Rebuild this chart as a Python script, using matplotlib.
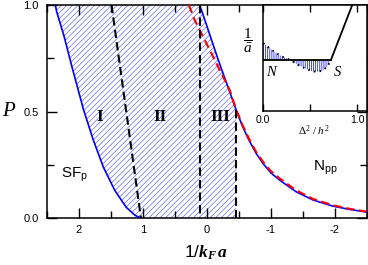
import numpy as np
import matplotlib
matplotlib.use('Agg')
import matplotlib.pyplot as plt

plt.rcParams['font.family'] = ['Liberation Sans', 'DejaVu Sans']
plt.rcParams['axes.unicode_minus'] = False
plt.rcParams['mathtext.fontset'] = 'custom'
plt.rcParams['mathtext.rm'] = 'Liberation Serif'
plt.rcParams['mathtext.it'] = 'Liberation Serif:italic'
plt.rcParams['mathtext.bf'] = 'Liberation Serif:italic:bold'
plt.rcParams['hatch.linewidth'] = 0.5

# --- main panel data (x = 1/kF a, P = polarization) ---
# left boundary of the superfluid region (blue solid)
left_x = [2.37, 2.35, 2.23, 2.11, 1.93, 1.78, 1.62, 1.44, 1.26, 1.12, 1.03]
left_P = [1.0, 0.97, 0.85, 0.71, 0.51, 0.37, 0.24, 0.13, 0.05, 0.012, 0.0]

# right boundary (blue solid)
right_x = [0.11, 0.03, -0.18, -0.33, -0.46, -0.56, -0.67, -0.77, -0.88, -1.0, -1.14,
           -1.40, -1.66, -1.97, -2.24, -2.5]
right_P = [1.0, 0.93, 0.742, 0.617, 0.507, 0.43, 0.36, 0.305, 0.256, 0.213, 0.178,
           0.123, 0.085, 0.056, 0.040, 0.028]

# red dashed curve
red_x = [0.28, 0.19, -0.125, -0.36, -0.46, -0.56, -0.67, -0.77, -0.88, -1.0, -1.14,
         -1.40, -1.66, -1.97, -2.24, -2.5]
red_P = [1.0, 0.93, 0.742, 0.60, 0.51, 0.436, 0.367, 0.312, 0.264, 0.221, 0.186,
         0.130, 0.090, 0.060, 0.043, 0.030]

# black dashed region dividers
div1_x = [1.49, 1.03]
div1_P = [1.0, 0.0]
div2_x = [0.11, 0.11]
div2_P = [1.0, 0.0]
div3_x = [-0.46, -0.46]
div3_P = [0.507, 0.0]

# --- inset data ---
flat_x = [0.0, 0.72]
flat_y = [0.48, 0.48]
rise_x = [0.72, 0.97]
rise_y = [0.48, 1.05]
dot_x = [0.0, 0.07, 0.14, 0.21, 0.29, 0.37, 0.45, 0.52, 0.57, 0.63, 0.685, 0.72]
dot_y = [0.64, 0.59, 0.545, 0.51, 0.48, 0.435, 0.40, 0.375, 0.37, 0.38, 0.42, 0.48]

blue = '#0000ff'
hatch_col = '#6c6cf0'

fig = plt.figure(figsize=(3.68, 2.65), dpi=100)
ax = fig.add_axes([47 / 368, 1 - 218 / 265, 319.5 / 368, 213 / 265])

# hatched superfluid region: up the left curve, then down the right one
n_top = right_x.index(div3_x[0]) + 1
poly_x = list(reversed(left_x)) + right_x[:n_top] + [div3_x[1]]
poly_P = list(reversed(left_P)) + right_P[:n_top] + [div3_P[1]]
ax.fill(poly_x, poly_P, facecolor='none', edgecolor=hatch_col, hatch='//////', linewidth=0, zorder=1)

ax.plot(left_x, left_P, color=blue, lw=1.2, zorder=3)
ax.plot(right_x, right_P, color=blue, lw=1.2, zorder=3)
ax.plot(red_x, red_P, color='#ff0000', lw=1.5, dashes=(4, 2.2), zorder=4)
for dx, dp in [(div1_x, div1_P), (div2_x, div2_P), (div3_x, div3_P)]:
    ax.plot(dx, dp, color='black', lw=1.5, dashes=(4, 2), zorder=5)

ax.set_xlim(2.5, -2.5)
ax.set_ylim(0, 1)
ax.set_xticks([2, 1, 0, -1, -2])
ax.set_xticks(np.arange(-2.5, 2.51, 0.5), minor=True)
ax.set_yticks([0, 0.5, 1.0])
ax.set_yticks([0.25, 0.75], minor=True)
ax.set_yticklabels(['0.0', '0.5', '1.0'])
ax.tick_params(which='both', direction='in', top=True, right=True, labelsize=8, width=1.0)
ax.tick_params(which='major', length=7, pad=6)
ax.tick_params(which='minor', length=5)
ax.tick_params(axis='x', pad=5)
for s in ax.spines.values():
    s.set_linewidth(1.1)

fig.text(8 / 368, 1 - 112 / 265, 'P', family='Liberation Serif', style='italic', fontsize=15,
         ha='center', va='center')
fig.text(206 / 368, 1 - 253 / 265, r'1/$\mathbf{k_F\,a}$', fontsize=12.5, ha='center', va='center')

for label, px in [('I', 100), ('II', 160), ('III', 220)]:
    fig.text(px / 368, 1 - 117 / 265, label, family='Liberation Serif', weight='bold', fontsize=12.5,
             ha='center', va='center')
fig.text(61 / 368, 1 - 175 / 265, r'SF$_{\mathregular{p}}$', fontsize=11, ha='left', va='center')
fig.text(313 / 368, 1 - 168 / 265, r'N$_{\mathregular{pp}}$', fontsize=11, ha='left', va='center')

# --- inset ---
ins = fig.add_axes([263.3 / 368, 1 - 111 / 265, 103.2 / 368, 106 / 265])
ins.fill_between(dot_x, dot_y, 0.48, facecolor='none', edgecolor=blue, hatch='||||||||', linewidth=0)
ins.plot(flat_x, flat_y, color='black', lw=1.3)
ins.plot(rise_x, rise_y, color='black', lw=1.3)
ins.plot(dot_x, dot_y, color='black', lw=1.4, dashes=(0.8, 2.2))
ins.set_xlim(0, 1.1)
ins.set_ylim(0, 1)
ins.set_xticks([0, 0.5, 1.0])
ins.set_xticklabels(['0.0', '', '1.0'])
ins.set_yticks([])
ins.tick_params(direction='in', top=True, labelsize=7.5, length=5, width=1.0, pad=3)
for s in ins.spines.values():
    s.set_linewidth(1.1)
ins.text(0.07, 0.36, 'N', family='Liberation Serif', style='italic', fontsize=10.5, ha='center',
         va='center', transform=ins.transAxes)
ins.text(0.72, 0.36, 'S', family='Liberation Serif', style='italic', fontsize=10.5, ha='center',
         va='center', transform=ins.transAxes)
fig.text(248 / 368, 1 - 41 / 265, r'$\dfrac{1}{\bar{a}}$', fontsize=11, ha='center', va='center')
fig.text(314 / 368, 1 - 131 / 265, r'$\Delta^2\ /\ h^2$', fontsize=8, ha='center', va='center')

fig.savefig('out.png', dpi=100)
